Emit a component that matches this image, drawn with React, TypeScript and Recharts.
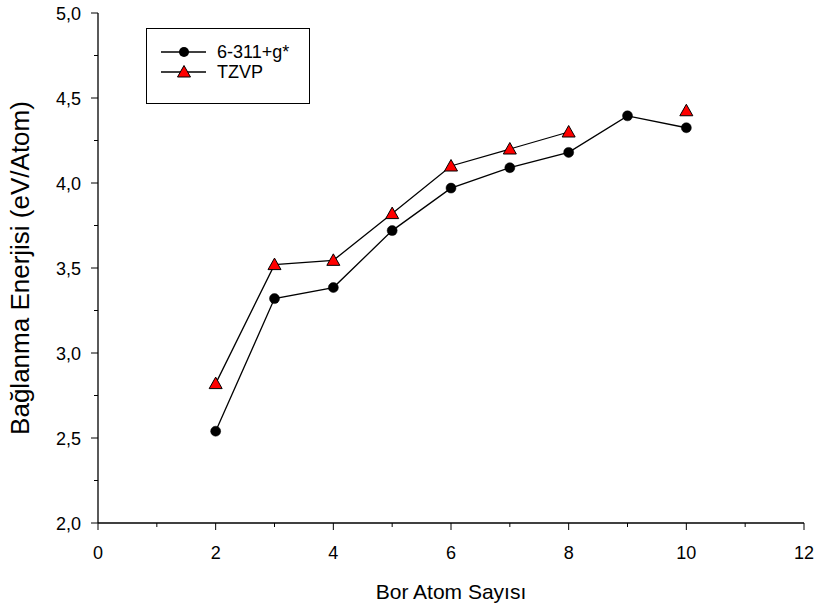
import React from "react";
import { LineChart, Line, XAxis, YAxis, Legend } from "recharts";

// Bor atom sayısı vs bağlanma enerjisi (eV/atom)
const atomCounts = [2, 3, 4, 5, 6, 7, 8, 9, 10];
const energy6311 = [2.54, 3.32, 3.385, 3.72, 3.97, 4.09, 4.18, 4.395, 4.325];
const energyTZVP: (number | null)[] = [2.82, 3.52, 3.545, 3.82, 4.1, 4.2, 4.3, null, 4.425];

const xTicks = [0, 1, 2, 3, 4, 5, 6, 7, 8, 9, 10, 11, 12];
const yTicks = [2, 2.25, 2.5, 2.75, 3, 3.25, 3.5, 3.75, 4, 4.25, 4.5, 4.75, 5];

const FONT = "'Liberation Sans', Arial, sans-serif";

const data = atomCounts.map((n, i) => ({
    n,
    b6311: energy6311[i],
    tzvp: energyTZVP[i],
}));

const XTick = (props: any) => {
    const { x, y, payload } = props;
    const major = payload.value % 2 === 0;
    return (
        <g>
            <line x1={x} x2={x} y1={y} y2={y + (major ? 7 : 4)} stroke="#000" strokeWidth={1} />
            {major && (
                <text x={x} y={y + 36} textAnchor="middle" fontSize={18} fontFamily={FONT} fill="#000">
                    {payload.value}
                </text>
            )}
        </g>
    );
};

const YTick = (props: any) => {
    const { x, y, payload } = props;
    const v = payload.value;
    const major = Math.abs(v * 2 - Math.round(v * 2)) < 1e-6;
    return (
        <g>
            <line x1={x - (major ? 7 : 4)} x2={x} y1={y} y2={y} stroke="#000" strokeWidth={1} />
            {major && (
                <text x={x - 17} y={y + 6.5} textAnchor="end" fontSize={18} fontFamily={FONT} fill="#000">
                    {v.toFixed(1).replace(".", ",")}
                </text>
            )}
        </g>
    );
};

const Triangle = (props: any) => {
    const { cx, cy } = props;
    if (cx == null || cy == null || props.value == null) return null;
    return (
        <polygon
            points={`${cx},${cy - 6.5} ${cx - 6.5},${cy + 5} ${cx + 6.5},${cy + 5}`}
            fill="#ff0000" stroke="#000" strokeWidth={1}
        />
    );
};

const LegendBox = (props: any) => {
    const items = props.payload || [];
    return (
        <div style={{ border: "1px solid #000", width: 164, height: 76, boxSizing: "border-box",
                      padding: "13px 0 0 14px", background: "#fff" }}>
            {items.map((it: any) => (
                <div key={it.value} style={{ display: "flex", alignItems: "center", height: 20 }}>
                    <svg width={56} height={16}>
                        <line x1={0} x2={45} y1={8} y2={8} stroke="#000" strokeWidth={1.3} />
                        {it.dataKey === "tzvp" ? (
                            <polygon points="23,1.5 16.5,13 29.5,13" fill="#ff0000" stroke="#000" strokeWidth={1} />
                        ) : (
                            <circle cx={23} cy={8} r={5} fill="#000" />
                        )}
                    </svg>
                    <span style={{ fontFamily: FONT, fontSize: 18, color: "#000" }}>{it.value}</span>
                </div>
            ))}
        </div>
    );
};

export default function App() {
    return (
        <div style={{ position: "absolute", left: 0, top: 0, width: 816, height: 611, background: "#fff" }}>
            <LineChart width={816} height={611} data={data} margin={{ top: 13, right: 12, bottom: 0, left: 0 }}>
                <XAxis dataKey="n" type="number" domain={[0, 12]} ticks={xTicks} interval={0}
                       tickSize={0} tickMargin={0} tickLine={false} tick={<XTick />} height={88}
                       axisLine={{ stroke: "#000", strokeWidth: 1.3 }}
                       label={{ value: "Bor Atom Sayısı", position: "insideBottom", offset: 12,
                                fill: "#000", fontSize: 21, fontFamily: FONT }} />
                <XAxis xAxisId="top" orientation="top" type="number" domain={[0, 12]} height={0}
                       tick={false} tickLine={false} axisLine={{ stroke: "#000", strokeWidth: 1.3 }} />
                <YAxis type="number" domain={[2, 5]} ticks={yTicks} interval={0} width={98}
                       tickSize={0} tickMargin={0} tickLine={false} tick={<YTick />}
                       axisLine={{ stroke: "#000", strokeWidth: 1.3 }}
                       label={{ value: "Bağlanma Enerjisi (eV/Atom)", angle: -90, position: "insideLeft", offset: 20,
                                fill: "#000", fontSize: 26, fontFamily: FONT, style: { textAnchor: "middle" } }} />
                <YAxis yAxisId="right" orientation="right" type="number" domain={[2, 5]} width={0}
                       tick={false} tickLine={false} axisLine={{ stroke: "#000", strokeWidth: 1.3 }} />
                <Legend layout="vertical" align="center" verticalAlign="middle" content={<LegendBox />}
                        wrapperStyle={{ position: "absolute", left: 146, top: 28, width: 164, height: 76 }} />
                <Line dataKey="b6311" name="6-311+g*" stroke="#000" strokeWidth={1.3}
                      dot={{ r: 5, fill: "#000", stroke: "#000", strokeWidth: 0.5 }} activeDot={false}
                      isAnimationActive={false} />
                <Line dataKey="tzvp" name="TZVP" stroke="#000" strokeWidth={1.3}
                      dot={<Triangle />} activeDot={false} isAnimationActive={false} />
            </LineChart>
        </div>
    );
}
